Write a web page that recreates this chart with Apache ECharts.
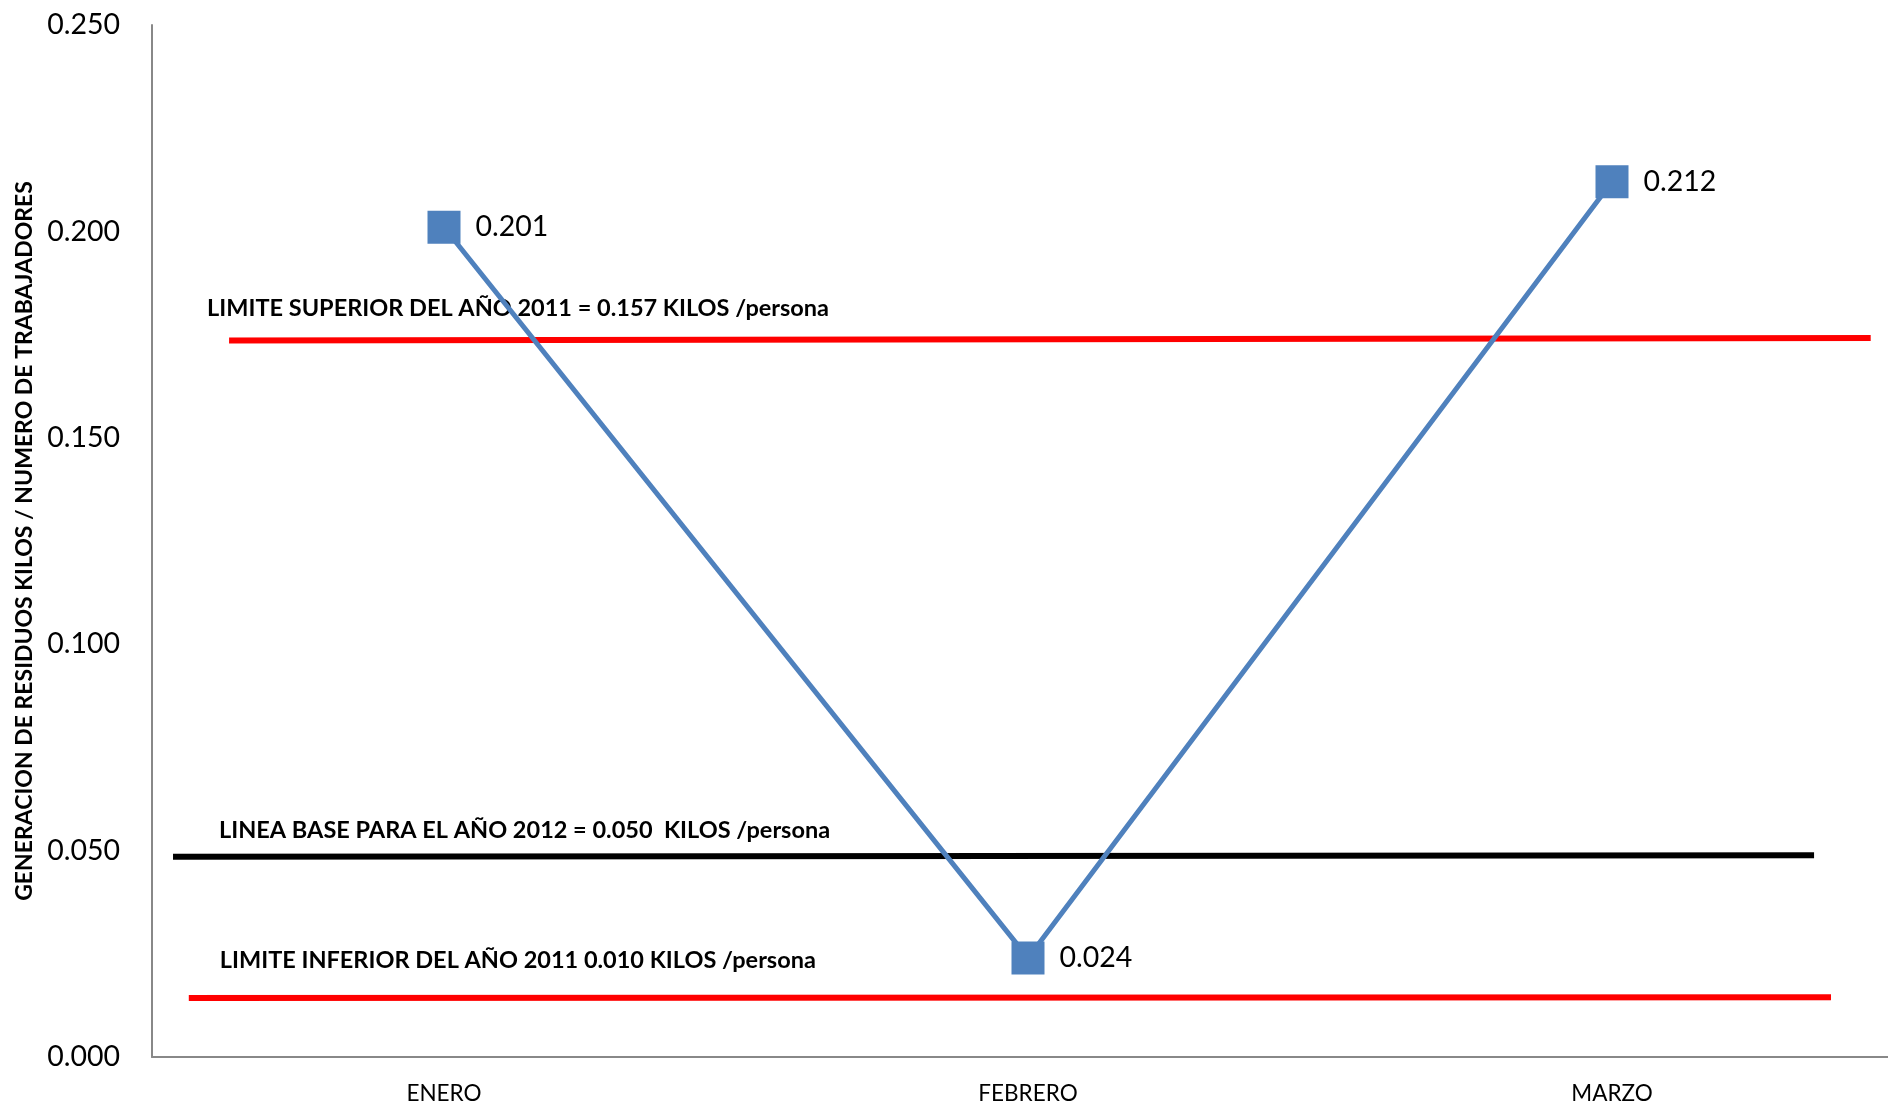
<!DOCTYPE html>
<html>
<head>
<meta charset="utf-8">
<style>
html,body{margin:0;padding:0;background:#fff;}
#chart{width:1888px;height:1106px;}
</style>
<script src="https://cdn.jsdelivr.net/npm/echarts@6/dist/echarts.min.js"></script>
</head>
<body>
<div id="chart"></div>
<script>
// ---- data ----
const categories = ['ENERO', 'FEBRERO', 'MARZO'];
const values = [0.201, 0.024, 0.212];
const yTicks = { min: 0, max: 0.25, interval: 0.05 };
const yTitle = 'GENERACION DE RESIDUOS KILOS / NUMERO DE TRABAJADORES';

// reference lines (drawn segments: [x in category units, y value])
const upperLine = [[-0.368, 0.1736], [2.443, 0.1742]];
const baseLine = [[-0.464, 0.0485], [2.346, 0.0489]];
const lowerLine = [[-0.437, 0.0143], [2.375, 0.0145]];
const upperText = 'LIMITE SUPERIOR DEL AÑO 2011 = 0.157 KILOS /persona';
const baseText = 'LINEA BASE PARA EL AÑO 2012 = 0.050  KILOS /persona';
const lowerText = 'LIMITE INFERIOR DEL AÑO 2011 0.010 KILOS /persona';

const FONT = 'Lato, "Open Sans", sans-serif';

function refSeries(points, color, width, text, off) {
  return {
    type: 'line',
    symbol: 'circle',
    symbolSize: 0,
    showSymbol: true,
    silent: true,
    z: 1,
    lineStyle: { color: color, width: width },
    itemStyle: { color: color },
    data: points.map((p, i) => i === 0 ? {
      value: p,
      label: {
        show: true, formatter: text, position: off,
        align: 'left', verticalAlign: 'middle',
        fontFamily: FONT, fontWeight: 'bold', fontSize: 23.5, color: '#000'
      }
    } : { value: p, label: { show: false } })
  };
}

const chart = echarts.init(document.getElementById('chart'), null, { renderer: 'canvas' });
chart.setOption({
  animation: false,
  backgroundColor: '#fff',
  grid: { left: 152, top: 25, bottom: 49, right: 0, containLabel: false },
  xAxis: [{
    // category positions 0,1,2 (each category occupies one unit, band from -0.5);
    // the right edge of the plot is cut off by the picture border
    type: 'value',
    min: -0.5, max: 2.4726,
    axisLine: { show: true, onZero: false, lineStyle: { color: '#888', width: 2 } },
    axisTick: { show: false },
    splitLine: { show: false },
    axisLabel: {
      customValues: categories.map((c, i) => i),
      formatter: v => categories[Math.round(v)] || '',
      margin: 25, fontFamily: FONT, fontSize: 22.5, color: '#000',
      showMinLabel: true, showMaxLabel: true
    }
  }],
  yAxis: [{
    type: 'value',
    min: yTicks.min, max: yTicks.max, interval: yTicks.interval,
    name: yTitle,
    nameLocation: 'middle',
    nameRotate: 90,
    nameGap: 116,
    nameTextStyle: { fontFamily: FONT, fontWeight: 'bold', fontSize: 23, color: '#000' },
    axisLine: { show: true, onZero: false, lineStyle: { color: '#888', width: 2 } },
    axisTick: { show: false },
    splitLine: { show: false },
    axisLabel: { margin: 32, fontFamily: FONT, fontSize: 28.5, color: '#000',
      formatter: v => v.toFixed(3) }
  }],
  series: [
    refSeries(upperLine, '#FF0000', 6, upperText, [-22, -32]),
    refSeries(baseLine, '#000000', 6, baseText, [46, -26]),
    refSeries(lowerLine, '#FF0000', 6, lowerText, [31, -38]),
    {
      type: 'line',
      data: values.map((v, i) => [i, v]),
      symbol: 'rect',
      symbolSize: 33,
      showSymbol: true,
      z: 5,
      lineStyle: { color: '#4F81BD', width: 5 },
      itemStyle: { color: '#4F81BD' },
      label: { show: true, position: 'right', distance: 15,
        fontFamily: FONT, fontSize: 28.5, color: '#000',
        formatter: p => p.value[1].toFixed(3) }
    }
  ]
});
</script>
</body>
</html>
